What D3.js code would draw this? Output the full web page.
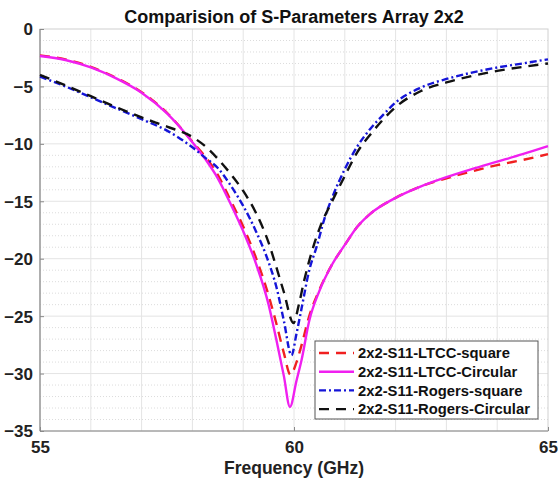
<!DOCTYPE html>
<html><head><meta charset="utf-8">
<script src="https://cdn.jsdelivr.net/npm/d3@7"></script>
<style>
body{margin:0;background:#fff;}
text{font-family:"Liberation Sans",Arial,Helvetica,sans-serif;font-weight:bold;}
</style></head>
<body><svg id="c" width="558" height="485"></svg>
<script>
const title = "Comparision of S-Parameters Array 2x2";
const xLabel = "Frequency (GHz)";
const xTicks = [55, 60, 65];
const yTicks = [0, -5, -10, -15, -20, -25, -30, -35];
const seriesNames = ["2x2-S11-LTCC-square", "2x2-S11-LTCC-Circular", "2x2-S11-Rogers-square", "2x2-S11-Rogers-Circular"];

const freqLtccSquare = [55,55.5,56,56.5,57,57.5,58,58.25,58.5,58.75,59,59.25,59.5,59.65,59.8,59.93,60.05,60.15,60.3,60.5,60.75,61,61.25,61.5,62,62.5,63,63.5,64,64.5,65];
const s11LtccSquare  = [-2.3,-2.65,-3.3,-4.25,-5.5,-7.3,-9.8,-11.1,-12.7,-14.9,-17.2,-19.9,-23.2,-25.6,-28.2,-30.1,-29.0,-27.5,-25.0,-22.7,-20.5,-18.8,-17.2,-16.1,-14.7,-13.7,-13.0,-12.4,-11.85,-11.4,-10.9];

const freqLtccCirc = [55,55.5,56,56.5,57,57.5,58,58.25,58.5,58.75,59,59.25,59.5,59.65,59.8,59.92,60.05,60.15,60.3,60.5,60.75,61,61.25,61.5,62,62.5,63,63.5,64,64.5,65];
const s11LtccCirc  = [-2.35,-2.7,-3.35,-4.3,-5.55,-7.35,-9.85,-11.3,-13.0,-15.2,-17.6,-20.4,-24.0,-27.0,-30.2,-32.9,-30.6,-28.8,-25.4,-22.8,-20.5,-18.8,-17.2,-16.1,-14.7,-13.7,-12.9,-12.2,-11.55,-10.9,-10.2];

const freqRogersSquare = [55,55.5,56,56.5,57,57.5,58,58.25,58.5,58.75,59,59.25,59.5,59.65,59.8,59.95,60.05,60.15,60.3,60.45,60.6,60.75,61,61.25,61.5,61.75,62,62.5,63,63.5,64,64.5,65];
const s11RogersSquare  = [-4.15,-5.0,-5.95,-6.9,-7.85,-8.85,-10.3,-11.2,-12.1,-13.6,-15.4,-17.6,-20.3,-22.4,-25.4,-28.4,-26.5,-24.3,-21.0,-18.9,-16.5,-14.7,-12.2,-10.2,-8.7,-7.5,-6.4,-5.1,-4.35,-3.8,-3.35,-3.0,-2.64];

const freqRogersCirc = [55,55.5,56,56.5,57,57.5,58,58.25,58.5,58.75,59,59.25,59.5,59.65,59.8,59.99,60.1,60.2,60.35,60.5,60.75,61,61.25,61.5,61.75,62,62.5,63,63.5,64,64.5,65];
const s11RogersCirc  = [-4.0,-4.9,-5.85,-6.8,-7.7,-8.5,-9.4,-10.2,-11.3,-12.6,-14.1,-16.0,-18.6,-20.7,-22.9,-25.6,-23.9,-21.9,-19.4,-17.4,-15.0,-12.8,-10.7,-9.2,-7.9,-6.8,-5.4,-4.65,-4.1,-3.65,-3.3,-3.0];

const series = [
  {name: seriesNames[0], f: freqLtccSquare, v: s11LtccSquare, color: "#f02020", dash: "10,7"},
  {name: seriesNames[1], f: freqLtccCirc, v: s11LtccCirc, color: "#f020f0", dash: null},
  {name: seriesNames[2], f: freqRogersSquare, v: s11RogersSquare, color: "#1515d8", dash: "7,3,2,3"},
  {name: seriesNames[3], f: freqRogersCirc, v: s11RogersCirc, color: "#111111", dash: "10,7"}
];

const svg = d3.select("#c");
const L = 40, R = 548, T = 29, B = 431;
const x = d3.scaleLinear().domain([55, 65]).range([L, R]);
const y = d3.scaleLinear().domain([-35, 0]).range([B, T]);

// grid
const g = svg.append("g");
g.selectAll(".hm").data(d3.range(-34, 0, 1).filter(v => v % 5 !== 0)).enter().append("line")
  .attr("x1", L).attr("x2", R).attr("y1", d => y(d)).attr("y2", d => y(d))
  .attr("stroke", "#dcdcdc").attr("stroke-width", 1).attr("stroke-dasharray", "1,2");
g.selectAll(".hM").data(d3.range(-30, 0, 5)).enter().append("line")
  .attr("x1", L).attr("x2", R).attr("y1", d => y(d)).attr("y2", d => y(d))
  .attr("stroke", "#e4e4e4").attr("stroke-width", 1);
g.selectAll(".v").data(d3.range(56, 65, 1)).enter().append("line")
  .attr("y1", T).attr("y2", B).attr("x1", d => x(d)).attr("x2", d => x(d))
  .attr("stroke", "#e4e4e4").attr("stroke-width", 1);

// box
svg.append("rect").attr("x", L).attr("y", T).attr("width", R - L).attr("height", B - T)
  .attr("fill", "none").attr("stroke", "#d0d0d0").attr("stroke-width", 1);
svg.append("line").attr("x1", L).attr("x2", L).attr("y1", T).attr("y2", B).attr("stroke", "#8a8a8a").attr("stroke-width", 1.2);
svg.append("line").attr("x1", L).attr("x2", R).attr("y1", B).attr("y2", B).attr("stroke", "#8a8a8a").attr("stroke-width", 1.2);

// axes
const yAxis = d3.axisLeft(y).tickValues(yTicks).tickSize(-4).tickPadding(7).tickFormat(d3.format("d"));
const ya = svg.append("g").attr("transform", `translate(${L},0)`).call(yAxis);
ya.select(".domain").remove();
ya.selectAll("line").attr("stroke", "#8a8a8a");
ya.selectAll("text").attr("font-size", 17).attr("fill", "#222").attr("dy", "0.35em");

const xAxis = d3.axisBottom(x).tickValues(xTicks).tickSize(-4).tickPadding(10);
const xa = svg.append("g").attr("transform", `translate(0,${B})`).call(xAxis);
xa.select(".domain").remove();
xa.selectAll("line").attr("stroke", "#8a8a8a");
xa.selectAll("text").attr("font-size", 17).attr("fill", "#222");

// lines
const line = d3.line().curve(d3.curveMonotoneX);
const lg = svg.append("g");
series.forEach(s => {
  const pts = s.f.map((f, i) => [x(f), y(s.v[i])]);
  lg.append("path").attr("d", line(pts)).attr("fill", "none")
    .attr("stroke", s.color).attr("stroke-width", 2.4)
    .attr("stroke-dasharray", s.dash).attr("stroke-linejoin", "round");
});

// title & label
svg.append("text").attr("x", 294).attr("y", 23).attr("text-anchor", "middle")
  .attr("font-size", 18).attr("fill", "#111").text(title);
svg.append("text").attr("x", 294).attr("y", 474).attr("text-anchor", "middle")
  .attr("font-size", 17.5).attr("fill", "#222").text(xLabel);

// legend
const lx = 315, ly = 341, lw = 223, lh = 78;
svg.append("rect").attr("x", lx).attr("y", ly).attr("width", lw).attr("height", lh)
  .attr("fill", "#fff").attr("stroke", "#555").attr("stroke-width", 1);
series.forEach((s, i) => {
  const yy = ly + 12 + i * 18.7;
  svg.append("line").attr("x1", lx + 4).attr("x2", lx + 39).attr("y1", yy).attr("y2", yy)
    .attr("stroke", s.color).attr("stroke-width", 2.4).attr("stroke-dasharray", s.dash);
  svg.append("text").attr("x", lx + 43).attr("y", yy).attr("dy", "0.36em")
    .attr("font-size", 14.8).attr("fill", "#111").text(s.name);
});
</script></body></html>
